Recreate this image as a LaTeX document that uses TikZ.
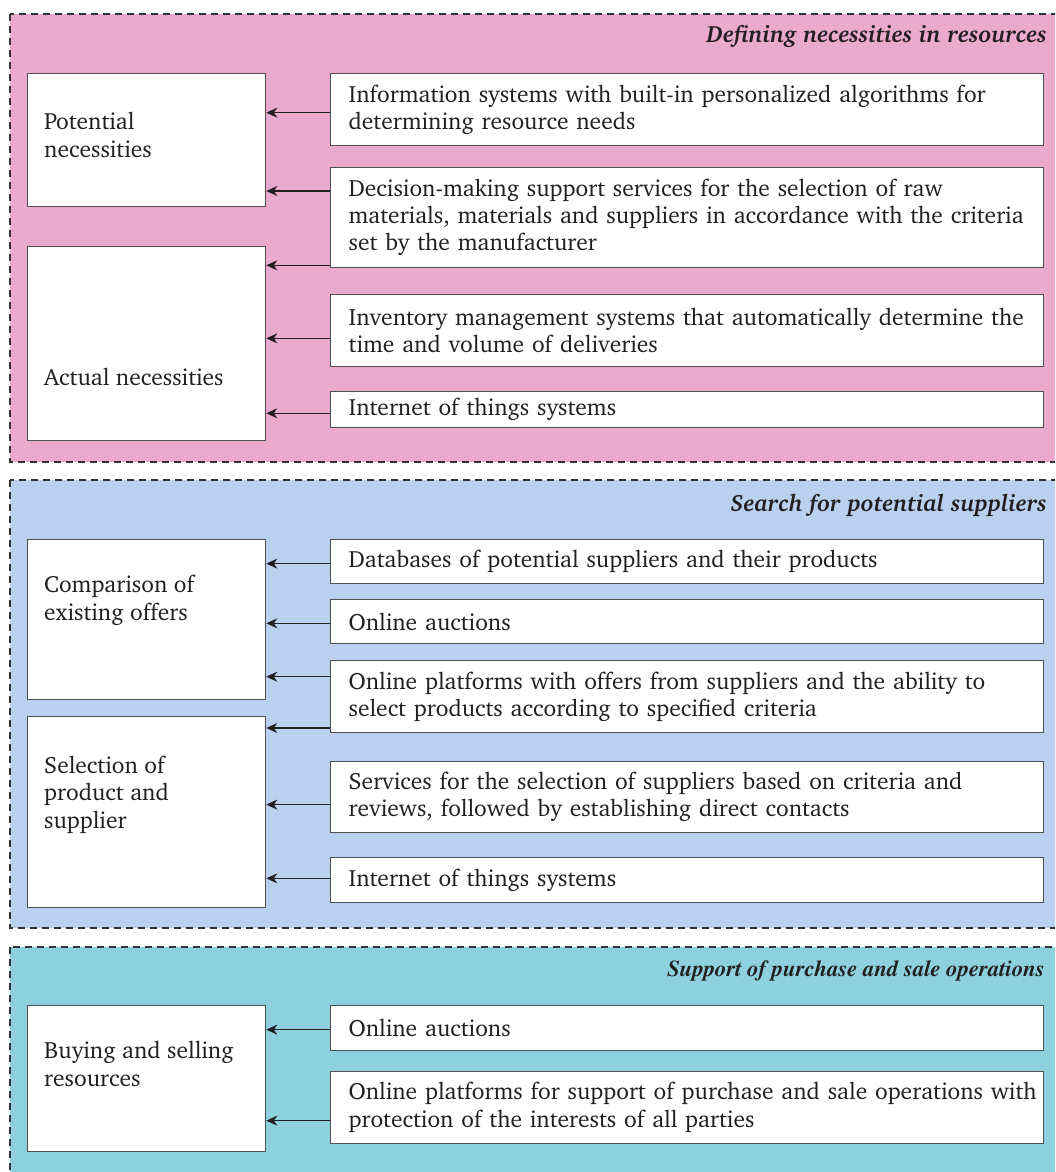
\documentclass[tikz,border=0pt]{standalone}
\usepackage[T1]{fontenc}
\usepackage{charter}
\usetikzlibrary{arrows.meta}
\definecolor{pinkbg}{RGB}{234,170,206}
\definecolor{bluebg}{RGB}{185,209,238}
\definecolor{tealbg}{RGB}{142,209,222}
\definecolor{edgegray}{RGB}{80,80,80}
\definecolor{dashgray}{RGB}{50,50,50}
\definecolor{inkc}{RGB}{35,31,32}
\tikzset{
  panel/.style={draw=dashgray, line width=1.3pt, dash pattern=on 7pt off 5pt},
  lbox/.style={draw=edgegray, fill=white, line width=1.3pt, anchor=north west, minimum width=238.3pt, inner sep=0pt},
  rbox/.style={draw=edgegray, fill=white, line width=1.3pt, anchor=north west, text width=677pt, inner xsep=18pt, inner ysep=0pt, align=left, text=inkc, font=\bodyfont},
  ltext/.style={anchor=base west, align=left, text=inkc, font=\bodyfont, inner sep=0pt},
  ttl/.style={anchor=base east, text=inkc, inner sep=0pt, font=\fontsize{23.5}{27}\selectfont\bfseries\itshape},
  ttltimes/.style={anchor=base east, text=inkc, inner sep=0pt, font=\fontfamily{ptm}\fontsize{22.7}{27}\selectfont\bfseries\itshape},
  arr/.style={draw=inkc, line width=1.2pt, -{Stealth[length=11pt,width=10pt,inset=3.5pt]}}
}
\newcommand\bodyfont{\fontsize{23.5}{27.4}\selectfont}
\begin{document}
\begin{tikzpicture}[x=1pt,y=-1pt]
\useasboundingbox (0,0) rectangle (1055,1172);
\clip (0,0) rectangle (1055,1172);
% panels
\fill[white] (0,0) rectangle (1055,1172);
\path[panel, fill=pinkbg] (10,14) rectangle (1070,462);
\path[panel, fill=bluebg] (10,480) rectangle (1070,928);
\path[panel, fill=tealbg] (10,947) rectangle (1070,1200);
% titles
\node[ttl] (t1) at (1047,43) {Defining necessities in resources};
\node[ttl] (t2) at (1047,511) {Search for potential suppliers};
\node[ttltimes] (t3) at (1045,976) {Support of purchase and sale operations};
% panel 1 left boxes
\node[lbox, minimum height=133pt] (pn) at (26.7,72.7) {};
\node[lbox, minimum height=194pt] (an) at (26.7,246) {};
\node[ltext] (pnt) at (44,157) {Potential\\necessities};
\node[ltext] (ant) at (44,385) {Actual necessities};
% panel 1 right boxes
\node[rbox, minimum height=72.3pt] (b1) at (330,72.7) {Information systems with built-in personalized algorithms for\\determining resource needs};
\node[rbox, minimum height=100pt] (b2) at (330,166.7) {Decision-making support services for the selection of raw\\materials, materials and suppliers in accordance with the criteria\\set by the manufacturer};
\node[rbox, minimum height=72pt] (b3) at (330,294) {Inventory management systems that automatically determine the\\time and volume of deliveries};
\node[rbox, minimum height=35.7pt] (b4) at (330,391) {Internet of things systems};
\draw[arr] ([yshift=-3.2pt]b1.west) -- ([yshift=-3.2pt]b1.west -| pn.east);
\draw[arr] ([yshift=-24.3pt]b2.north west) -- ([yshift=-24.3pt]b2.north west -| pn.east);
\draw[arr] ([yshift=2.7pt]b2.south west) -- ([yshift=2.7pt]b2.south west -| an.east);
\draw[arr] ([yshift=-7.7pt]b3.west) -- ([yshift=-7.7pt]b3.west -| an.east);
\draw[arr] ([yshift=-3.8pt]b4.west) -- ([yshift=-3.8pt]b4.west -| an.east);
% panel 2 left boxes
\node[lbox, minimum height=160pt] (co) at (26.7,539) {};
\node[lbox, minimum height=190.7pt] (se) at (26.7,716) {};
\node[ltext] (cot) at (44,620) {Comparison of\\existing offers};
\node[ltext] (set) at (44,828) {Selection of\\product and\\supplier};
% panel 2 right boxes
\node[rbox, minimum height=44pt] (c1) at (330,539) {Databases of potential suppliers and their products};
\node[rbox, minimum height=44pt] (c2) at (330,599) {Online auctions};
\node[rbox, minimum height=72pt] (c3) at (330,660) {Online platforms with offers from suppliers and the ability to\\select products according to specified criteria};
\node[rbox, minimum height=71.3pt] (c4) at (330,760.7) {Services for the selection of suppliers based on criteria and\\reviews, followed by establishing direct contacts};
\node[rbox, minimum height=45pt] (c5) at (330,857) {Internet of things systems};
\draw[arr] ([yshift=-2pt]c1.west) -- ([yshift=-2pt]c1.west -| co.east);
\draw[arr] ([yshift=-1.7pt]c2.west) -- ([yshift=-1.7pt]c2.west -| co.east);
\draw[arr] ([yshift=-16.7pt]c3.north west) -- ([yshift=-16.7pt]c3.north west -| co.east);
\draw[arr] ([yshift=5.3pt]c3.south west) -- ([yshift=5.3pt]c3.south west -| se.east);
\draw[arr] ([yshift=-7.6pt]c4.west) -- ([yshift=-7.6pt]c4.west -| se.east);
\draw[arr] ([yshift=1.8pt]c5.west) -- ([yshift=1.8pt]c5.west -| se.east);
% panel 3
\node[lbox, minimum height=146pt] (bs) at (26.7,1005) {};
\node[ltext] (bst) at (44,1086) {Buying and selling\\resources};
\node[rbox, minimum height=45pt] (d1) at (330,1005) {Online auctions};
\node[rbox, minimum height=72pt] (d2) at (330,1070.7) {\mbox{Online platforms for support of purchase and sale operations with}\\protection of the interests of all parties};
\draw[arr] ([yshift=-1.5pt]d1.west) -- ([yshift=-1.5pt]d1.west -| bs.east);
\draw[arr] ([yshift=-13.3pt]d2.west) -- ([yshift=-13.3pt]d2.west -| bs.east);
\end{tikzpicture}
\end{document}
